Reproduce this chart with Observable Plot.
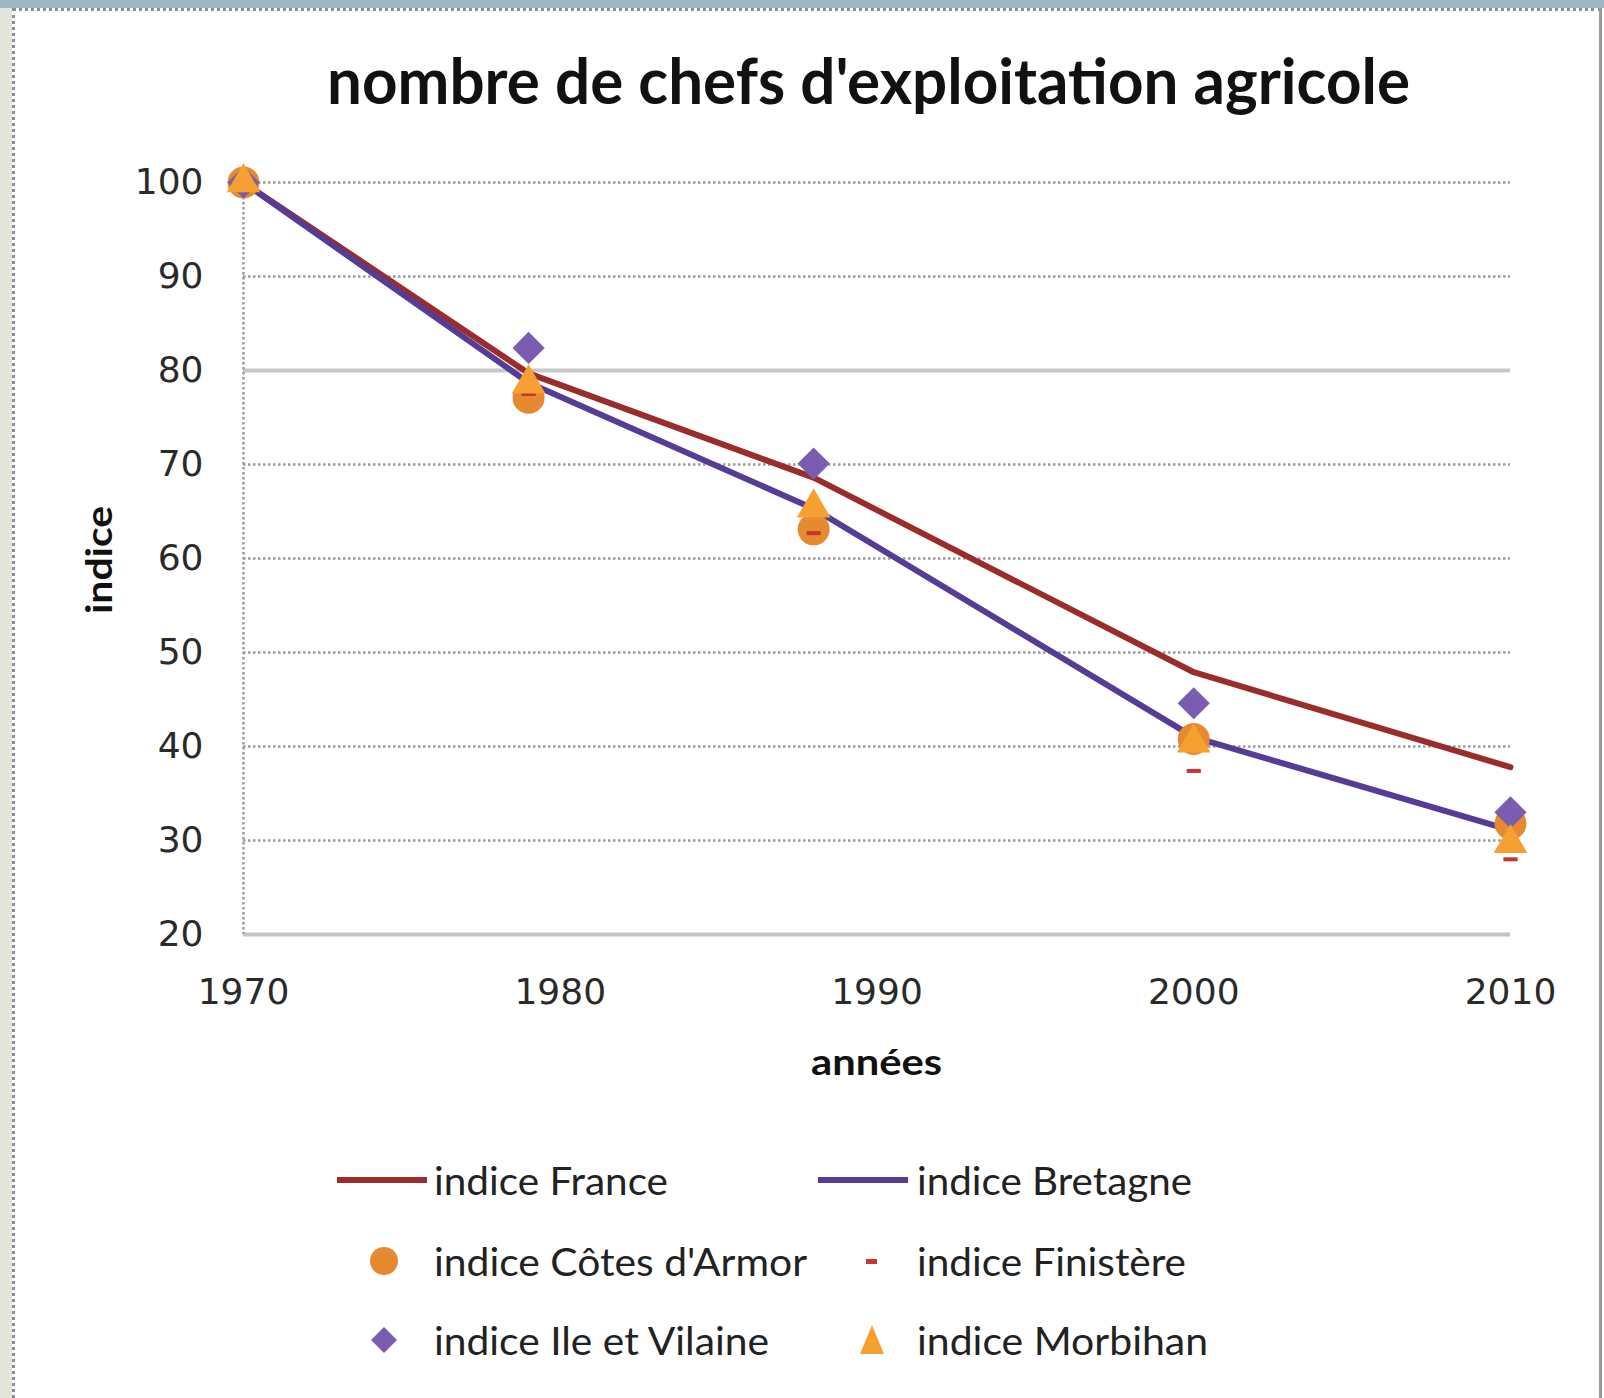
<!DOCTYPE html>
<html>
<head>
<meta charset="utf-8">
<script src="https://cdn.jsdelivr.net/npm/d3@7"></script>
<script src="https://cdn.jsdelivr.net/npm/@observablehq/plot@0.6"></script>
<style>
  html, body { margin: 0; padding: 0; background: #fff; }
  #page { position: relative; width: 1604px; height: 1398px; overflow: hidden; background: #fff; }
  #topband { position: absolute; left: 0; top: 0; width: 1604px; height: 8px; background: #9db8c3; }
  #topline { position: absolute; left: 12px; top: 8px; width: 1590px; height: 0; border-top: 3px dotted #8a8f93; }
  #leftband { position: absolute; left: 0; top: 8px; width: 12px; height: 1390px; background: #e4e6dc; }
  #leftline { position: absolute; left: 12px; top: 8px; width: 0; height: 1390px; border-left: 3px dotted #8a8f93; }
  #rightline { position: absolute; left: 1599px; top: 8px; width: 0; height: 1390px; border-left: 3px solid #9a9a9a; }
  #chart { position: absolute; left: 0; top: 0; }
  .fit { position: absolute; white-space: nowrap; transform-origin: 0 0; color: #111; }
  #title { font-family: Lato, "Open Sans", sans-serif; font-weight: 700; font-size: 64px; line-height: 1; }
  #xlabel { font-family: Lato, "Open Sans", sans-serif; font-weight: 700; font-size: 37px; line-height: 1; }
  #ylabel { font-family: Lato, "Open Sans", sans-serif; font-weight: 700; font-size: 37px; line-height: 1; }
  .leg { font-family: Lato, "Open Sans", sans-serif; font-size: 38px; line-height: 1; color: #222; }
  .sw { position: absolute; }
</style>
</head>
<body>
<div id="page">
  <div id="chart"></div>
  <div id="topband"></div><div id="topline"></div>
  <div id="leftband"></div><div id="leftline"></div>
  <div id="rightline"></div>
  <div id="title" class="fit">nombre de chefs d'exploitation agricole</div>
  <div id="xlabel" class="fit">années</div>
  <div id="ylabel" class="fit">indice</div>
  <div id="legend"></div>
</div>
<script>
// ---- data ----
const years = [1970, 1979, 1988, 2000, 2010];
const france = [100, 79.7, 68.6, 47.9, 37.8];
const bretagne = [100, 78.7, 65.3, 41.0, 31.1];
const cotesArmor = [100, 77.1, 63.1, 40.8, 31.8];
const finistere = [100, 77.5, 62.7, 37.4, 28.0];
const ileVilaine = [100, 82.4, 70.1, 44.6, 33.0];
const morbihan = [100, 78.6, 65.4, 40.4, 29.7];
const xTicks = [1970, 1980, 1990, 2000, 2010];
const yTicks = [20, 30, 40, 50, 60, 70, 80, 90, 100];

const seriesNames = ["indice France", "indice Bretagne", "indice Côtes d'Armor", "indice Finistère", "indice Ile et Vilaine", "indice Morbihan"];

const C = {
  france: "#9a2c2c",
  bretagne: "#553d95",
  cotes: "#e58a2f",
  finistere: "#c8352e",
  ile: "#7a5cb0",
  morbihan: "#f5a030"
};

const rows = (vals) => years.map((y, i) => ({year: y, value: vals[i]}));

const dashSymbol = {
  draw(ctx, size) {
    const w = Math.sqrt(size);
    ctx.rect(-w / 2, -w / 7, w, w / 3.5);
  }
};

const chart = Plot.plot({
  width: 1604,
  height: 1100,
  marginLeft: 243,
  marginRight: 94,
  marginTop: 182,
  marginBottom: 166,
  style: { fontFamily: "DejaVu Sans, Verdana, sans-serif", fontSize: "36px", background: "transparent", overflow: "visible" },
  x: { domain: [1970, 2010], ticks: xTicks, tickFormat: d => String(d) },
  y: { domain: [20, 100], ticks: yTicks },
  marks: [
    // gridlines
    Plot.ruleY(yTicks.filter(v => v > 20 && v !== 80), { stroke: "#9c9c9c", strokeWidth: 2.5, strokeDasharray: "2.5,2.5" }),
    Plot.ruleY([80], { stroke: "#c8c8c8", strokeWidth: 4 }),
    Plot.ruleY([20], { stroke: "#c4c4c4", strokeWidth: 4 }),
    Plot.ruleX([1970], { stroke: "#9c9c9c", strokeWidth: 2.5, strokeDasharray: "2.5,2.5" }),
    Plot.axisY({ ticks: yTicks, tickSize: 0, tickPadding: 40, fill: "#2a2a2a", label: null }),
    Plot.axisX({ ticks: xTicks, tickSize: 0, tickPadding: 44, fill: "#2a2a2a", label: null, tickFormat: d => String(d) }),
    // lines
    Plot.line(rows(france), { x: "year", y: "value", stroke: C.france, strokeWidth: 6 }),
    Plot.line(rows(bretagne), { x: "year", y: "value", stroke: C.bretagne, strokeWidth: 6 }),
    // markers
    Plot.dot(rows(cotesArmor), { x: "year", y: "value", r: 16, symbol: "circle", fill: C.cotes }),
    Plot.dot(rows(finistere), { x: "year", y: "value", r: 8, symbol: dashSymbol, fill: C.finistere }),
    Plot.dot(rows(ileVilaine), { x: "year", y: "value", r: 14.5, symbol: "diamond2", fill: C.ile }),
    Plot.dot(rows(morbihan), { x: "year", y: "value", r: 12.5, symbol: "triangle", fill: C.morbihan })
  ]
});
document.getElementById("chart").appendChild(chart);

// ---- legend ----
const legend = document.getElementById("legend");
const legendItems = [
  { name: seriesNames[0], kind: "line", color: C.france, col: 0, row: 0 },
  { name: seriesNames[1], kind: "line", color: C.bretagne, col: 1, row: 0 },
  { name: seriesNames[2], kind: "circle", color: C.cotes, col: 0, row: 1 },
  { name: seriesNames[3], kind: "dash", color: C.finistere, col: 1, row: 1 },
  { name: seriesNames[4], kind: "diamond", color: C.ile, col: 0, row: 2 },
  { name: seriesNames[5], kind: "triangle", color: C.morbihan, col: 1, row: 2 }
];
const legendTextWidths = [234, 275, 373, 269, 335, 291];
const colText = [434, 917];
const colLine = [337, 818];
const colMarker = [384, 872];
const rowY = [1180, 1261, 1340];

legendItems.forEach((it, i) => {
  const cy = rowY[it.row];
  const ns = "http://www.w3.org/2000/svg";
  const svg = document.createElementNS(ns, "svg");
  svg.setAttribute("class", "sw");
  let x0, w;
  if (it.kind === "line") { x0 = colLine[it.col]; w = 90; }
  else { x0 = colMarker[it.col] - 20; w = 40; }
  svg.setAttribute("width", w);
  svg.setAttribute("height", 40);
  svg.style.left = x0 + "px";
  svg.style.top = (cy - 20) + "px";
  let el;
  if (it.kind === "line") {
    el = document.createElementNS(ns, "line");
    el.setAttribute("x1", 0); el.setAttribute("x2", 90);
    el.setAttribute("y1", 20); el.setAttribute("y2", 20);
    el.setAttribute("stroke", it.color); el.setAttribute("stroke-width", 6);
  } else if (it.kind === "circle") {
    el = document.createElementNS(ns, "ellipse");
    el.setAttribute("cx", 20); el.setAttribute("cy", 20);
    el.setAttribute("rx", 14); el.setAttribute("ry", 14);
    el.setAttribute("fill", it.color);
  } else if (it.kind === "dash") {
    el = document.createElementNS(ns, "rect");
    el.setAttribute("x", 14); el.setAttribute("y", 18);
    el.setAttribute("width", 11); el.setAttribute("height", 5);
    el.setAttribute("fill", it.color);
  } else if (it.kind === "diamond") {
    el = document.createElementNS(ns, "path");
    el.setAttribute("d", "M20,7L33,20L20,33L7,20Z");
    el.setAttribute("fill", it.color);
  } else {
    el = document.createElementNS(ns, "path");
    el.setAttribute("d", "M20,5L32,34L8,34Z");
    el.setAttribute("fill", it.color);
  }
  svg.appendChild(el);
  legend.appendChild(svg);

  const t = document.createElement("div");
  t.className = "fit leg";
  t.textContent = it.name;
  t.dataset.w = legendTextWidths[i];
  t.dataset.x = colText[it.col];
  t.dataset.cy = cy;
  legend.appendChild(t);
});

// ---- fit text boxes ----
function place(el, x, cy, targetW, rotate) {
  el.style.left = "0px"; el.style.top = "0px"; el.style.transform = "none";
  const r = el.getBoundingClientRect();
  const s = targetW / r.width;
  const h = r.height;
  if (!rotate) {
    el.style.left = x + "px";
    el.style.top = (cy - h / 2) + "px";
    el.style.transform = `scaleX(${s})`;
  } else {
    el.style.transformOrigin = "0 0";
    el.style.left = (x - h / 2) + "px";
    el.style.top = (cy + targetW / 2) + "px";
    el.style.transform = `rotate(-90deg) scaleX(${s})`;
  }
}
place(document.getElementById("title"), 327, 80, 1083);
place(document.getElementById("xlabel"), 811, 1060, 131);
place(document.getElementById("ylabel"), 97, 560, 108, true);
document.querySelectorAll(".leg").forEach(el => place(el, +el.dataset.x, +el.dataset.cy, +el.dataset.w));
</script>
</body>
</html>
